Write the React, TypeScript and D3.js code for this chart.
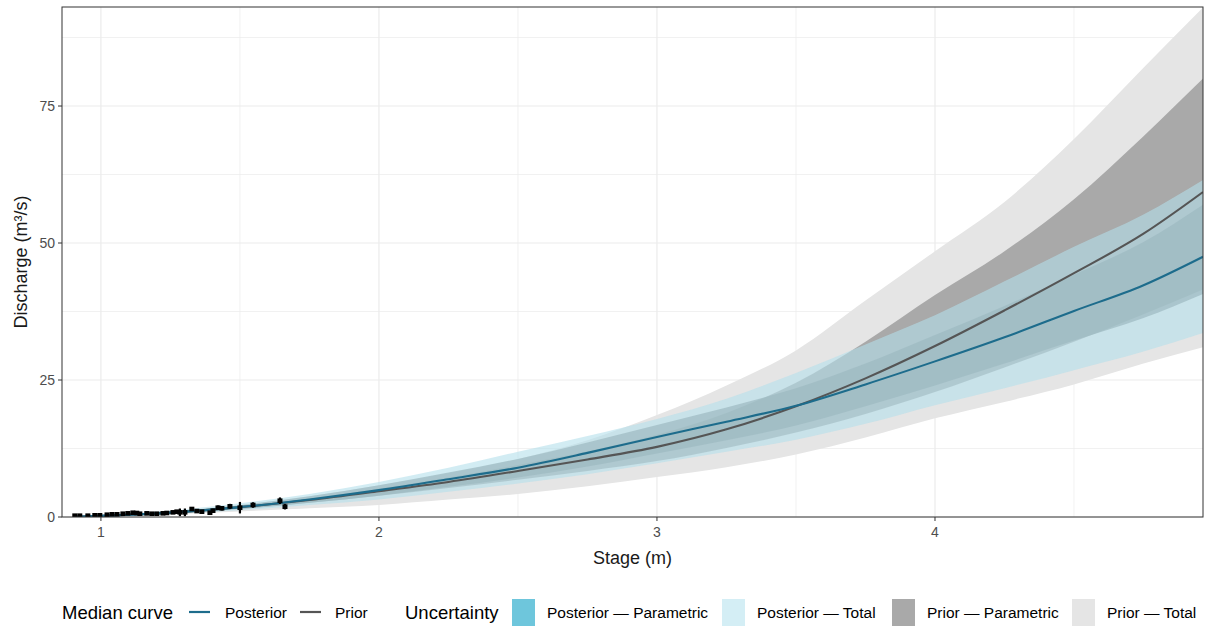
import React from "react";
import * as d3 from "d3";

// ---- Data ----
const stage = [0.9, 1.0, 1.25, 1.5, 1.75, 2.0, 2.25, 2.5, 2.75, 3.0, 3.25, 3.5, 3.75, 4.0, 4.25, 4.5, 4.75, 4.964];

const postMedian = [0.05, 0.2, 0.8, 1.8, 3.2, 4.9, 6.9, 9.0, 11.7, 14.6, 17.4, 20.3, 24.2, 28.4, 32.8, 37.6, 42.3, 47.5];
const postParamLow = [0.03, 0.15, 0.65, 1.45, 2.6, 3.9, 5.5, 7.2, 9.2, 11.6, 14.0, 16.7, 20.2, 24.0, 28.0, 32.2, 36.3, 40.7];
const postParamHigh = [0.07, 0.25, 0.95, 2.15, 3.8, 5.8, 8.1, 10.6, 13.6, 16.8, 20.0, 23.5, 28.0, 33.2, 38.5, 44.2, 50.2, 57.0];
const postTotalLow = [0.02, 0.12, 0.55, 1.25, 2.2, 3.2, 4.6, 6.1, 7.8, 9.8, 11.9, 14.1, 17.0, 20.4, 23.5, 26.8, 30.2, 33.6];
const postTotalHigh = [0.1, 0.35, 1.15, 2.5, 4.2, 6.4, 9.0, 11.9, 14.8, 17.9, 21.6, 26.3, 31.5, 36.8, 43.0, 49.3, 55.2, 61.5];

const priorMedian = [0.05, 0.2, 0.8, 1.8, 3.1, 4.7, 6.4, 8.4, 10.5, 12.8, 16.0, 20.2, 25.3, 31.2, 37.7, 44.5, 51.7, 59.3];
const priorParamLow = [0.03, 0.15, 0.6, 1.5, 2.6, 3.9, 5.3, 6.8, 8.4, 10.2, 12.6, 15.4, 18.8, 22.8, 27.3, 32.0, 37.0, 41.5];
const priorParamHigh = [0.08, 0.25, 0.9, 2.0, 3.4, 5.2, 7.2, 9.5, 12.0, 15.0, 19.0, 24.5, 32.0, 40.5, 48.5, 58.0, 69.5, 80.0];
const priorTotalLow = [0.02, 0.1, 0.45, 1.0, 1.6, 2.2, 3.2, 4.2, 5.6, 7.3, 9.1, 11.4, 14.5, 18.0, 21.0, 24.2, 28.0, 31.0];
const priorTotalHigh = [0.1, 0.3, 1.0, 2.2, 3.8, 5.8, 8.0, 10.6, 14.0, 18.6, 24.0, 30.4, 39.5, 48.5, 57.5, 69.0, 82.0, 93.0];

// Gaugings
const gaugeStage = [0.906, 0.924, 0.953, 0.978, 0.996, 1.022, 1.04, 1.058, 1.079, 1.097, 1.115, 1.129, 1.14, 1.165, 1.183, 1.201, 1.223, 1.237, 1.259, 1.273, 1.284, 1.302, 1.327, 1.345, 1.363, 1.392, 1.403, 1.421, 1.435, 1.464, 1.5, 1.547, 1.644, 1.662];
const gaugeQ = [0.24, 0.24, 0.24, 0.31, 0.31, 0.42, 0.49, 0.49, 0.6, 0.67, 0.78, 0.73, 0.6, 0.67, 0.6, 0.6, 0.67, 0.73, 0.85, 0.97, 0.85, 0.85, 1.46, 1.09, 0.97, 0.78, 1.15, 1.7, 1.59, 1.95, 1.7, 2.19, 2.97, 1.88];
const gaugeErr = [0.1, 0.1, 0.1, 0.1, 0.1, 0.1, 0.1, 0.1, 0.15, 0.15, 0.2, 0.2, 0.15, 0.15, 0.15, 0.15, 0.2, 0.2, 0.2, 0.25, 0.7, 0.7, 0.3, 0.3, 0.3, 0.3, 0.35, 0.4, 0.4, 0.45, 1.05, 0.5, 0.6, 0.5];

const xTicks = [1, 2, 3, 4];
const xMinor = [1.5, 2.5, 3.5, 4.5];
const yTicks = [0, 25, 50, 75];
const yMinor = [12.5, 37.5, 62.5, 87.5];

const lineLegend = [
  { label: "Posterior", color: "#1D6C8C" },
  { label: "Prior", color: "#555555" },
];
const fillLegend = [
  { label: "Posterior \u2014 Parametric", color: "#6EC6DC" },
  { label: "Posterior \u2014 Total", color: "#D4EEF5" },
  { label: "Prior \u2014 Parametric", color: "#A9A9A9" },
  { label: "Prior \u2014 Total", color: "#E5E5E5" },
];

const W = 1208;
const H = 626;
const L = 62, R = 1203, T = 7, B = 517;
const FONT = "'Liberation Sans', Arial, sans-serif";

export default function App() {
  const x = d3.scaleLinear().domain([0.86, 4.964]).range([L, R]);
  const y = d3.scaleLinear().domain([0, 93.07]).range([B, T]);

  const idx = stage.map((_, i) => i);
  const band = (lo: number[], hi: number[]) =>
    d3
      .area<number>()
      .x((i) => x(stage[i]))
      .y0((i) => y(lo[i]))
      .y1((i) => y(hi[i]))
      .curve(d3.curveMonotoneX)(idx) || "";
  const line = (v: number[]) =>
    d3
      .line<number>()
      .x((i) => x(stage[i]))
      .y((i) => y(v[i]))
      .curve(d3.curveMonotoneX)(idx) || "";

  const legY = 612;
  const lineKeyX = [189, 300];
  const lineTextX = [225, 335];
  const boxX = [512, 722, 892, 1072];

  return (
    <svg width={W} height={H} style={{ display: "block", position: "absolute", left: 0, top: 0, background: "#fff" }} fontFamily={FONT}>
      <rect x={0} y={0} width={W} height={H} fill="#fff" />
      <defs>
        <clipPath id="panel">
          <rect x={L} y={T} width={R - L} height={B - T} />
        </clipPath>
      </defs>
      {/* grid */}
      {xMinor.map((v) => (
        <line key={"xm" + v} x1={x(v)} x2={x(v)} y1={T} y2={B} stroke="#EBEBEB" strokeWidth={0.7} />
      ))}
      {yMinor.map((v) => (
        <line key={"ym" + v} x1={L} x2={R} y1={y(v)} y2={y(v)} stroke="#EBEBEB" strokeWidth={0.7} />
      ))}
      {xTicks.map((v) => (
        <line key={"xg" + v} x1={x(v)} x2={x(v)} y1={T} y2={B} stroke="#EBEBEB" strokeWidth={1.2} />
      ))}
      {yTicks.map((v) => (
        <line key={"yg" + v} x1={L} x2={R} y1={y(v)} y2={y(v)} stroke="#EBEBEB" strokeWidth={1.2} />
      ))}

      <g clipPath="url(#panel)">
        <path d={band(priorTotalLow, priorTotalHigh)} fill="#E5E5E5" />
        <path d={band(priorParamLow, priorParamHigh)} fill="#A9A9A9" />
        <path d={band(postTotalLow, postTotalHigh)} fill="#B4DFEB" fillOpacity={0.6} />
        <path d={band(postParamLow, postParamHigh)} fill="#9DB9C1" fillOpacity={0.7} />
        <path d={line(priorMedian)} fill="none" stroke="#555555" strokeWidth={2.1} />
        <path d={line(postMedian)} fill="none" stroke="#1D6C8C" strokeWidth={2.1} />
        {gaugeStage.map((s, i) => (
          <g key={"g" + i}>
            <line
              x1={x(s)}
              x2={x(s)}
              y1={y(gaugeQ[i] - gaugeErr[i])}
              y2={y(gaugeQ[i] + gaugeErr[i])}
              stroke="#000"
              strokeWidth={2.2}
            />
            <rect x={x(s) - 2.5} y={y(gaugeQ[i]) - 2.3} width={5} height={4.6} fill="#000" />
          </g>
        ))}
      </g>

      {/* panel border */}
      <rect x={L} y={T} width={R - L} height={B - T} fill="none" stroke="#333333" strokeWidth={1} />

      {/* axes ticks & labels */}
      {xTicks.map((v) => (
        <g key={"xt" + v}>
          <line x1={x(v)} x2={x(v)} y1={B} y2={B + 4} stroke="#333333" strokeWidth={1} />
          <text x={x(v)} y={B + 20} textAnchor="middle" fontSize={14} fill="#4D4D4D">
            {v}
          </text>
        </g>
      ))}
      {yTicks.map((v) => (
        <g key={"yt" + v}>
          <line x1={L - 4} x2={L} y1={y(v)} y2={y(v)} stroke="#333333" strokeWidth={1} />
          <text x={L - 7} y={y(v) + 5} textAnchor="end" fontSize={14} fill="#4D4D4D">
            {v}
          </text>
        </g>
      ))}
      <text x={(L + R) / 2} y={564} textAnchor="middle" fontSize={18} fill="#1A1A1A">
        Stage (m)
      </text>
      <text
        transform={`translate(27,${(T + B) / 2}) rotate(-90)`}
        textAnchor="middle"
        fontSize={18}
        fill="#1A1A1A"
      >
        Discharge (m³/s)
      </text>

      {/* legend */}
      <text x={62} y={legY + 6.5} fontSize={18.5} fill="#000">
        Median curve
      </text>
      {lineLegend.map((d, i) => (
        <g key={"ll" + i}>
          <line x1={lineKeyX[i]} x2={lineKeyX[i] + 21} y1={legY} y2={legY} stroke={d.color} strokeWidth={2.2} />
          <text x={lineTextX[i]} y={legY + 5.5} fontSize={15.5} fill="#000">
            {d.label}
          </text>
        </g>
      ))}
      <text x={405} y={legY + 6.5} fontSize={18.5} fill="#000">
        Uncertainty
      </text>
      {fillLegend.map((d, i) => (
        <g key={"fl" + i}>
          <rect x={boxX[i]} y={legY - 13} width={23} height={27} fill={d.color} />
          <text x={boxX[i] + 35} y={legY + 5.5} fontSize={15.5} fill="#000">
            {d.label}
          </text>
        </g>
      ))}
    </svg>
  );
}
